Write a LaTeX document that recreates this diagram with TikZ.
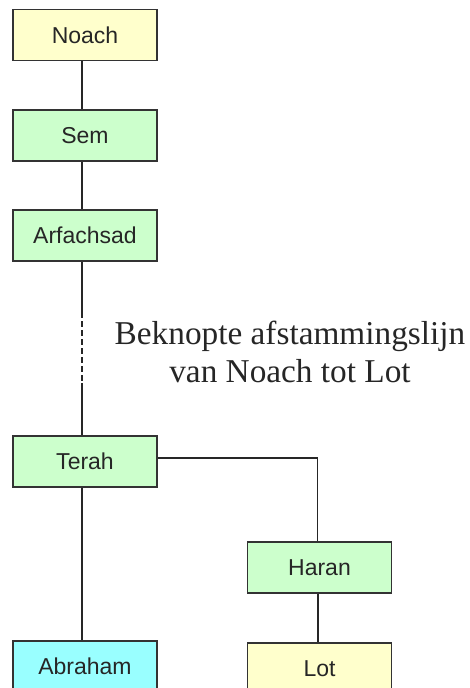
\documentclass[tikz,border=0pt]{standalone}
\usepackage{fontspec}
\setmainfont{Liberation Serif}
\setsansfont{Liberation Sans}
\begin{document}
\begin{tikzpicture}[x=1pt,y=-1pt,
  person/.style={draw=black!80, line width=1.3pt, minimum width=144pt, minimum height=51pt,
    inner sep=0pt, font=\sffamily\fontsize{23}{27}\selectfont, text=black!85},
  yel/.style={person, fill={rgb,255:red,255;green,255;blue,204}},
  grn/.style={person, fill={rgb,255:red,204;green,255;blue,204}},
  cya/.style={person, fill={rgb,255:red,153;green,255;blue,255}},
  link/.style={draw=black!85, line width=1.3pt}]
\useasboundingbox (0,0) rectangle (470,688);
\node[yel] (noach) at (85,35) {Noach};
\node[grn] (sem) at (85,135.5) {Sem};
\node[grn] (arf) at (85,235.5) {Arfachsad};
\node[grn] (terah) at (85,461.5) {Terah};
\node[cya] (abraham) at (85,666.5) {Abraham};
\node[grn] (haran) at (319.5,567.5) {Haran};
\node[yel] (lot) at (319.5,668.5) {Lot};
\node[align=center, font=\fontsize{33.3}{38}\selectfont, text=black!85] (title) at (290,352)
  {Beknopte afstammingslijn\\van Noach tot Lot};
\coordinate (d1) at (82,312);
\coordinate (d2) at (82,383);
\draw[link] ([xshift=-3pt]noach.south) -- ([xshift=-3pt]sem.north);
\draw[link] ([xshift=-3pt]sem.south) -- ([xshift=-3pt]arf.north);
\draw[link] ([xshift=-3pt]arf.south) -- (d1);
\draw[link, dash pattern=on 6pt off 3pt] (d1) -- (d2);
\draw[link] (d2) -- ([xshift=-3pt]terah.north);
\draw[link] ([xshift=-3pt]terah.south) -- ([xshift=-3pt]abraham.north);
\draw[link] ([yshift=3.5pt]terah.east) -| ([xshift=-2pt]haran.north);
\draw[link] ([xshift=-1.5pt]haran.south) -- ([xshift=-1.5pt]lot.north);
\end{tikzpicture}
\end{document}
